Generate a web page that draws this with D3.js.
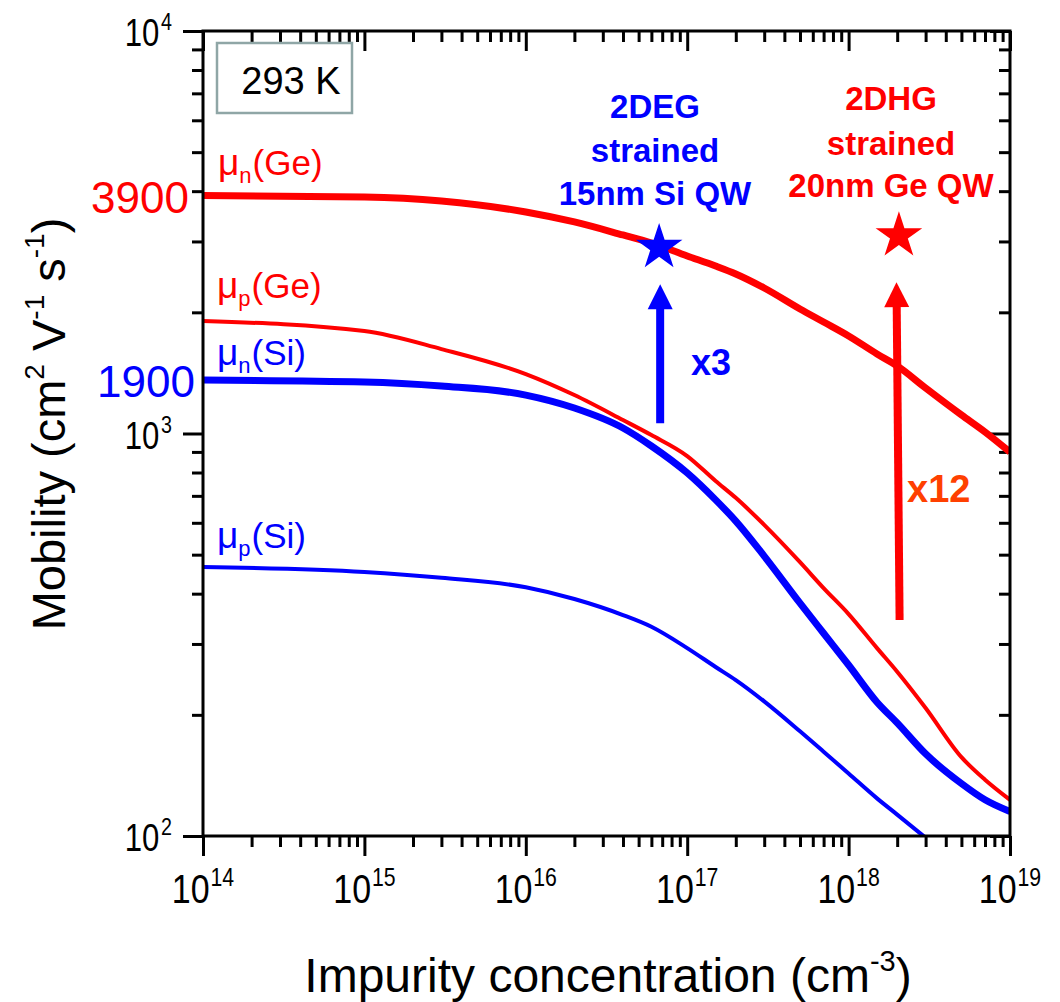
<!DOCTYPE html>
<html><head><meta charset="utf-8">
<script src="https://cdn.jsdelivr.net/npm/d3@7"></script>
<style>
body{margin:0;background:#fff}
svg{display:block}
text{font-family:"Liberation Sans",Arial,Helvetica,sans-serif}
</style>
</head><body>
<svg id="chart" width="1060" height="1002"></svg>
<script>
// ---------------- data ----------------
const concentrations = [1e14, 1e15, 3e15, 1e16, 2e16, 4e16, 6e16, 1e17, 1.5e17, 2e17, 3e17, 5e17, 7e17, 1e18, 1.5e18, 2e18, 3e18, 5e18, 7e18, 1e19];
const muNGe = [3900, 3869, 3781, 3551, 3354, 3113, 2974, 2761, 2607, 2491, 2299, 2039, 1892, 1747, 1576, 1472, 1297, 1112, 1009, 899];
const muPGe = [1903, 1797, 1621, 1405, 1246, 1080, 991, 879, 762, 692, 593, 479, 413, 356, 293, 256, 208, 157, 138, 123];
const muNSi = [1358, 1343, 1312, 1246, 1157, 1032, 931, 798, 684, 606, 496, 379, 319, 266, 215, 191, 160, 135, 123, 115];
const concPSi = [1e14, 1e15, 3e15, 1e16, 2e16, 4e16, 6e16, 1e17, 1.5e17, 2e17, 3e17, 5e17, 7e17, 1e18, 1.5e18, 2e18, 3e18];
const muPSi = [466, 453, 438, 415, 388, 354, 331, 293, 263, 244, 216, 182, 162, 143, 124, 113, 99];

const xTickExponents = [14, 15, 16, 17, 18, 19];
const yTickExponents = [2, 3, 4];

const starConc = [6.7e16, 2.05e18];
const starMu = [2900, 3100];
const arrowConc = [[6.8e16, 6.8e16], [2.07e18, 1.98e18]];
const arrowMu = [[1060, 2350], [344, 2377]];
const arrowLabels = ["x3", "x12"];
const noteBlue = ["2DEG", "strained", "15nm Si QW"];
const noteRed = ["2DHG", "strained", "20nm Ge QW"];
const highlightValues = ["3900", "1900"];
const tempLabel = "293 K";

// ---------------- layout ----------------
const RED = "#ff0000", BLUE = "#0000ff", ORANGE = "#ff4000";
const L = 203, R = 1010, T = 31, B = 836;
const svg = d3.select("#chart");
const x = d3.scaleLog().domain([1e14, 1e19]).range([L, R]);
const y = d3.scaleLog().domain([100, 10000]).range([B, T]);

const xMajor = xTickExponents.map(e => Math.pow(10, e));
const xMinor = [];
for (let e = 14; e < 19; e++) for (let m = 2; m <= 9; m++) xMinor.push(m * Math.pow(10, e));
const yMajor = yTickExponents.map(e => Math.pow(10, e));
const yMinor = [];
for (let e = 2; e < 4; e++) for (let m = 2; m <= 9; m++) yMinor.push(m * Math.pow(10, e));

const MAJ = 20, MIN = 11;
function drawAxis(axisGen, transform, values, size) {
  const g = svg.append("g").attr("transform", transform)
    .call(axisGen.tickValues(values).tickSize(size).tickSizeOuter(0).tickFormat(""));
  g.select(".domain").remove();
  g.selectAll(".tick line").attr("stroke", "#000").attr("stroke-width", 3);
}
drawAxis(d3.axisBottom(x), `translate(0,${B})`, xMajor, MAJ);
drawAxis(d3.axisBottom(x), `translate(0,${B})`, xMinor, MIN);
drawAxis(d3.axisTop(x), `translate(0,${T})`, xMajor, -MAJ);
drawAxis(d3.axisTop(x), `translate(0,${T})`, xMinor, -MIN);
drawAxis(d3.axisLeft(y), `translate(${L},0)`, yMajor, MAJ);
drawAxis(d3.axisLeft(y), `translate(${L},0)`, yMinor, MIN);
drawAxis(d3.axisRight(y), `translate(${R},0)`, yMajor, -MAJ);
drawAxis(d3.axisRight(y), `translate(${R},0)`, yMinor, -MIN);

// clip
svg.append("clipPath").attr("id", "plotclip").append("rect")
  .attr("x", L).attr("y", T).attr("width", R - L).attr("height", B - T);

// curves
const line = d3.line().x(d => x(d[0])).y(d => y(d[1])).curve(d3.curveMonotoneX);
const series = [
  {c: concentrations, v: muNGe, color: RED, w: 7},
  {c: concentrations, v: muPGe, color: RED, w: 4},
  {c: concentrations, v: muNSi, color: BLUE, w: 7},
  {c: concPSi, v: muPSi, color: BLUE, w: 4}
];
const curves = svg.append("g").attr("clip-path", "url(#plotclip)");
series.forEach(s => {
  curves.append("path").datum(s.c.map((c, i) => [c, s.v[i]]))
    .attr("d", line).attr("fill", "none").attr("stroke", s.color)
    .attr("stroke-width", s.w).attr("stroke-linejoin", "round");
});

// frame
svg.append("rect").attr("x", L).attr("y", T).attr("width", R - L).attr("height", B - T)
  .attr("fill", "none").attr("stroke", "#000").attr("stroke-width", 3);

// tick labels (condensed look)
xTickExponents.forEach(e => {
  const g = svg.append("g").attr("transform", `translate(${x(Math.pow(10, e))},903) scale(0.85,1)`);
  const t = g.append("text").attr("text-anchor", "middle").attr("font-size", 40).attr("fill", "#000");
  t.append("tspan").text("10");
  t.append("tspan").attr("font-size", 25).attr("dy", -17).attr("dx", 1).text(e);
});
yTickExponents.forEach(e => {
  const g = svg.append("g").attr("transform", `translate(172,${y(Math.pow(10, e)) + 15}) scale(0.82,1)`);
  const t = g.append("text").attr("text-anchor", "end").attr("font-size", 38).attr("fill", "#000");
  t.append("tspan").text("10");
  t.append("tspan").attr("font-size", 24).attr("dy", -16).attr("dx", 2).text(e);
});

// axis titles
{
  const t = svg.append("text").attr("x", 608).attr("y", 992).attr("text-anchor", "middle")
    .attr("font-size", 48).attr("fill", "#000");
  t.append("tspan").text("Impurity concentration (cm");
  t.append("tspan").attr("font-size", 29).attr("dy", -21).text("-3");
  t.append("tspan").attr("dy", 21).text(")");
}
{
  const t = svg.append("text").attr("transform", "translate(65,424) rotate(-90)")
    .attr("text-anchor", "middle").attr("font-size", 47).attr("fill", "#000");
  t.append("tspan").text("Mobility (cm");
  t.append("tspan").attr("font-size", 28).attr("dy", -21).text("2");
  t.append("tspan").attr("dy", 21).text(" V");
  t.append("tspan").attr("font-size", 28).attr("dy", -21).text("-1");
  t.append("tspan").attr("dy", 21).text(" s");
  t.append("tspan").attr("font-size", 28).attr("dy", -21).text("-1");
  t.append("tspan").attr("dy", 21).text(")");
}

// series labels
function muLabel(px, py, sub, rest, color) {
  const t = svg.append("text").attr("x", px).attr("y", py).attr("font-size", 35).attr("fill", color);
  t.append("tspan").attr("font-size", 37).text("\u03bc");
  t.append("tspan").attr("font-size", 22).attr("dy", 8).text(sub);
  t.append("tspan").attr("dy", -8).attr("dx", 1).text(rest);
}
muLabel(218, 175, "n", "(Ge)", RED);
muLabel(217, 298, "p", "(Ge)", RED);
muLabel(217, 365, "n", "(Si)", BLUE);
muLabel(217, 548, "p", "(Si)", BLUE);

svg.append("text").attr("x", 189).attr("y", 213).attr("text-anchor", "end")
  .attr("font-size", 44).attr("fill", RED).text(highlightValues[0]);
svg.append("text").attr("x", 195).attr("y", 397).attr("text-anchor", "end")
  .attr("font-size", 44).attr("fill", BLUE).text(highlightValues[1]);

// temperature box
svg.append("rect").attr("x", 217).attr("y", 43).attr("width", 135).attr("height", 70)
  .attr("fill", "#fff").attr("stroke", "#8fa6a6").attr("stroke-width", 2.5);
svg.append("text").attr("x", 291).attr("y", 94).attr("text-anchor", "middle")
  .attr("font-size", 38).attr("fill", "#000").text(tempLabel);

// notes
function note(lines, cx, baselines, color) {
  lines.forEach((s, i) => {
    svg.append("text").attr("x", cx).attr("y", baselines[i]).attr("text-anchor", "middle")
      .attr("font-size", 33).attr("font-weight", "bold").attr("fill", color).text(s);
  });
}
note(noteBlue, 655, [118, 162, 205], BLUE);
note(noteRed, 891, [110, 155, 197], RED);

// arrows
const arrowColors = [BLUE, RED];
arrowConc.forEach((cs, i) => {
  const x0 = x(cs[0]), y0 = y(arrowMu[i][0]), x1 = x(cs[1]), y1 = y(arrowMu[i][1]);
  const len = Math.hypot(x1 - x0, y1 - y0), ux = (x1 - x0) / len, uy = (y1 - y0) / len;
  const hl = 25, hw = 12.5;
  const bx = x1 - ux * hl, by = y1 - uy * hl;
  svg.append("line").attr("x1", x0).attr("y1", y0).attr("x2", bx + ux * 2).attr("y2", by + uy * 2)
    .attr("stroke", arrowColors[i]).attr("stroke-width", 8);
  svg.append("path").attr("fill", arrowColors[i])
    .attr("d", `M${x1},${y1}L${bx - uy * hw},${by + ux * hw}L${bx + uy * hw},${by - ux * hw}Z`);
});
svg.append("text").attr("x", 691).attr("y", 375).attr("font-size", 36).attr("font-weight", "bold")
  .attr("fill", BLUE).text(arrowLabels[0]);
svg.append("text").attr("x", 907).attr("y", 502).attr("font-size", 38).attr("font-weight", "bold")
  .attr("fill", ORANGE).text(arrowLabels[1]);

// stars
const starColors = [BLUE, RED];
const starR = 24.5;
starConc.forEach((c, i) => {
  svg.append("path")
    .attr("d", d3.symbol().type(d3.symbolStar).size(starR * starR / 0.8908130915292852)())
    .attr("transform", `translate(${x(c)},${y(starMu[i])})`)
    .attr("fill", starColors[i]);
});
</script>
</body></html>
